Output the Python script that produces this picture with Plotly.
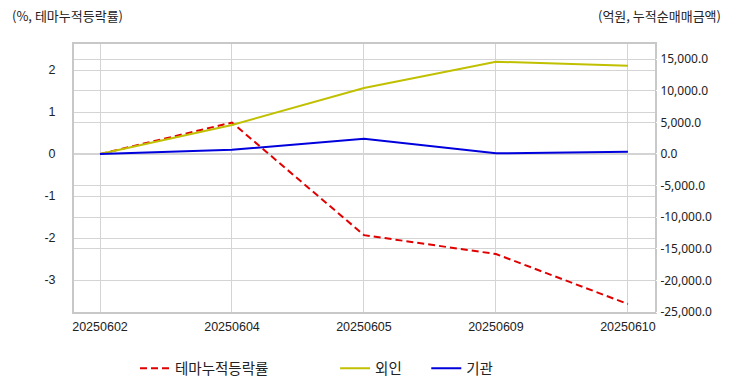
import plotly.graph_objects as go

dates = ["20250602", "20250604", "20250605", "20250609", "20250610"]
theme_rate = [0.0, 0.75, -1.93, -2.38, -3.57]
foreign = [0.0, 4600.0, 10450.0, 14600.0, 13950.0]
inst = [0.0, 650.0, 2400.0, 100.0, 350.0]

left_ticks = [2, 1, 0, -1, -2, -3]
right_ticks = [15000, 10000, 5000, 0, -5000, -10000, -15000, -20000, -25000]

KFONT = "Noto Sans CJK KR"
grid = "#d4d4d4"
NB = "\u00a0"

fig = go.Figure()
fig.add_trace(go.Scatter(x=dates, y=foreign, name="외인" + NB * 6, mode="lines",
                         line=dict(color="#c0c000", width=2), yaxis="y2", legendrank=2))
fig.add_trace(go.Scatter(x=dates, y=inst, name="기관", mode="lines",
                         line=dict(color="#0000dd", width=2), yaxis="y2", legendrank=3))
fig.add_trace(go.Scatter(x=dates, y=theme_rate, name="테마누적등락률" + NB * 19, mode="lines",
                         line=dict(color="#e00000", width=2, dash="7px,4px"), yaxis="y",
                         legendrank=1))

fig.update_layout(
    width=732, height=392,
    margin=dict(l=74, r=77, t=44, b=80, autoexpand=False),
    paper_bgcolor="white", plot_bgcolor="white",
    font=dict(family="Liberation Sans", size=12, color="#222"),
    showlegend=True,
    legend=dict(orientation="h", x=0.105, xanchor="left", y=-0.21, yanchor="middle",
                font=dict(family=KFONT, size=14.5, color="#222")),
    xaxis=dict(type="category", range=[-0.197, 4.205], showgrid=True, gridcolor=grid,
               showline=True, linecolor="#c8c8c8", linewidth=2, mirror=True, automargin=False,
               ticks="outside", ticklen=2, tickcolor="white",
               tickfont=dict(family="Liberation Sans", size=12.5)),
    yaxis=dict(range=[-3.76, 2.62], tickvals=left_ticks,
               ticktext=[str(v) for v in left_ticks], showgrid=True, gridcolor=grid,
               zeroline=False, showline=True, linecolor="#c8c8c8", linewidth=2, mirror=True,
               automargin=False,
               tickfont=dict(family="Liberation Sans", size=12.5), ticks="outside", ticklen=14,
               tickcolor="white"),
    yaxis2=dict(range=[-25000, 17400], tickvals=right_ticks,
                ticktext=[f"{v:,.1f}" for v in right_ticks], overlaying="y", side="right",
                showgrid=True, gridcolor=grid, zeroline=False, automargin=False,
                tickfont=dict(family="Noto Sans", size=12), ticks="outside", ticklen=2,
                tickcolor="white"),
    annotations=[
        dict(text="(%, 테마누적등락률)", xref="paper", yref="paper", x=-0.11, y=1.105,
             xanchor="left", yanchor="middle", showarrow=False,
             font=dict(family=KFONT, size=13, color="#222")),
        dict(text="(억원, 누적순매매금액)", xref="paper", yref="paper", x=1.1165, y=1.105,
             xanchor="right", yanchor="middle", showarrow=False,
             font=dict(family=KFONT, size=13, color="#222")),
    ],
)

fig.write_html("out.html", config={"displayModeBar": False},
               post_script="document.body.style.margin='0';")
